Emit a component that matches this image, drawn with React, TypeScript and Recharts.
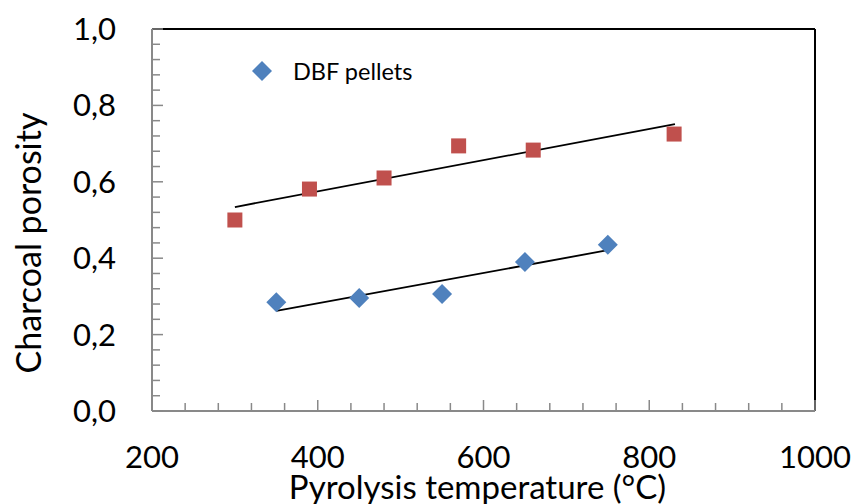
import { ScatterChart, Scatter, XAxis, YAxis, ReferenceLine, Legend } from 'recharts';

// DBF pellets (blue diamonds)
const pelletTemps = [350, 450, 550, 650, 750];
const pelletPorosity = [0.285, 0.296, 0.306, 0.39, 0.435];

// second series (red squares)
const otherTemps = [300, 390, 480, 570, 660, 830];
const otherPorosity = [0.5, 0.581, 0.61, 0.694, 0.683, 0.725];

// linear trend lines, end points
const pelletTrendX = [350, 750];
const pelletTrendY = [0.262, 0.421];
const otherTrendX = [300, 831];
const otherTrendY = [0.534, 0.751];

const xTicks = [200, 240, 280, 320, 360, 400, 440, 480, 520, 560, 600, 640, 680, 720, 760, 800, 840, 880, 920, 960, 1000];
const xLabels = [200, 400, 600, 800, 1000];
const yTicks = [0, 0.04, 0.08, 0.12, 0.16, 0.2, 0.24, 0.28, 0.32, 0.36, 0.4, 0.44, 0.48, 0.52, 0.56, 0.6, 0.64, 0.68, 0.72, 0.76, 0.8, 0.84, 0.88, 0.92, 0.96, 1.0];
const yLabels = [0, 0.2, 0.4, 0.6, 0.8, 1.0];

const BLUE = '#4F81BD';
const RED = '#C0504D';
const AXIS = '#898989';
const FONT = 'Lato, "Open Sans", sans-serif';

const pelletData = pelletTemps.map((t, i) => ({ x: t, y: pelletPorosity[i] }));
const otherData = otherTemps.map((t, i) => ({ x: t, y: otherPorosity[i] }));

const isLabel = (list: number[], v: number) => list.some((l) => Math.abs(l - v) < 1e-6);

function XTick(props: any) {
  const { x, y, payload } = props;
  const major = isLabel(xLabels, payload.value);
  return (
    <g>
      <line x1={x} y1={y} x2={x} y2={y - (major ? 11 : 8)} stroke={AXIS} strokeWidth={1.5} />
      {major && (
        <text x={x} y={y + 57} textAnchor="middle" fontSize={31} fontFamily={FONT} fill="#000">
          {payload.value}
        </text>
      )}
    </g>
  );
}

function YTick(props: any) {
  const { x, y, payload } = props;
  const major = isLabel(yLabels, payload.value);
  return (
    <g>
      <line x1={x} y1={y} x2={x + (major ? 11 : 8)} y2={y} stroke={AXIS} strokeWidth={1.5} />
      {major && (
        <text x={x - 36} y={y + 11} textAnchor="end" fontSize={31} fontFamily={FONT} fill="#000">
          {payload.value.toFixed(1).replace('.', ',')}
        </text>
      )}
    </g>
  );
}

function Square(props: any) {
  const { cx, cy } = props;
  return <rect x={cx - 7.5} y={cy - 7.5} width={15} height={15} fill={RED} />;
}

function Diamond(props: any) {
  const { cx, cy } = props;
  return <path d={`M${cx},${cy - 10} L${cx + 10},${cy} L${cx},${cy + 10} L${cx - 10},${cy} Z`} fill={BLUE} />;
}

function LegendBox() {
  return (
    <div style={{ display: 'flex', alignItems: 'center', fontFamily: FONT, fontSize: 23.5, color: '#000' }}>
      <svg width={20} height={20} style={{ marginRight: 21 }}>
        <path d="M10,0 L20,10 L10,20 L0,10 Z" fill={BLUE} />
      </svg>
      <span>DBF pellets</span>
    </div>
  );
}

export default function App() {
  return (
    <div style={{ position: 'absolute', left: 0, top: 0, background: '#fff' }}>
      <ScatterChart width={856} height={504} margin={{ top: 29, right: 41, bottom: 0, left: 0 }} style={{ fontFamily: FONT }}>
        <XAxis
          type="number"
          dataKey="x"
          domain={[200, 1000]}
          ticks={xTicks}
          interval={0}
          height={93}
          tickLine={false}
          tickSize={0}
          tickMargin={0}
          axisLine={{ stroke: AXIS, strokeWidth: 2 }}
          tick={<XTick />}
          label={(p: any) => (
            <text
              x={p.viewBox.x + p.viewBox.width / 2 - 6}
              y={499}
              textAnchor="middle"
              fontSize={33}
              fontFamily={FONT}
              fill="#000"
            >
              Pyrolysis temperature (°C)
            </text>
          )}
        />
        <YAxis
          type="number"
          dataKey="y"
          domain={[0, 1]}
          ticks={yTicks}
          interval={0}
          width={152}
          tickLine={false}
          tickSize={0}
          tickMargin={0}
          axisLine={{ stroke: AXIS, strokeWidth: 2 }}
          tick={<YTick />}
          label={() => (
            <text
              x={41}
              y={243}
              transform="rotate(-90 41 243)"
              textAnchor="middle"
              fontSize={34}
              fontFamily={FONT}
              fill="#000"
            >
              Charcoal porosity
            </text>
          )}
        />
        <ReferenceLine y={1} stroke="#000" strokeWidth={2} />
        <ReferenceLine x={1000} stroke="#000" strokeWidth={2} />
        <Scatter name="DBF pellets" data={pelletData} shape={<Diamond />} isAnimationActive={false} />
        <Scatter name="other" data={otherData} shape={<Square />} isAnimationActive={false} legendType="none" />
        <ReferenceLine
          segment={[
            { x: pelletTrendX[0], y: pelletTrendY[0] },
            { x: pelletTrendX[1], y: pelletTrendY[1] },
          ]}
          stroke="#000"
          strokeWidth={1.8}
        />
        <ReferenceLine
          segment={[
            { x: otherTrendX[0], y: otherTrendY[0] },
            { x: otherTrendX[1], y: otherTrendY[1] },
          ]}
          stroke="#000"
          strokeWidth={1.8}
        />
        <Legend
          layout="vertical"
          align="center"
          verticalAlign="middle"
          content={<LegendBox />}
          wrapperStyle={{ top: 57, left: 252, width: 'auto' }}
        />
      </ScatterChart>
    </div>
  );
}
